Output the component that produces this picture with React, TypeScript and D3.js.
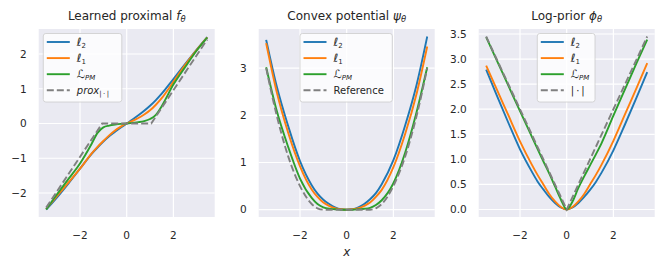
import React from "react";
import * as d3 from "d3";

// shared sample grid (x)
const xs = [-3.45, -3, -2.5, -2, -1.5, -1.25, -1, -0.75, -0.5, -0.25, 0, 0.25, 0.5, 0.75, 1, 1.25, 1.5, 2, 2.5, 3, 3.45];

// Learned proximal f_theta
const proxL2 = [-2.48, -2.14, -1.73, -1.3, -0.87, -0.69, -0.52, -0.37, -0.24, -0.115, 0, 0.115, 0.235, 0.365, 0.51, 0.675, 0.86, 1.28, 1.71, 2.13, 2.49];
const proxL1 = [-2.46, -2.1, -1.7, -1.3, -0.86, -0.67, -0.5, -0.34, -0.2, -0.09, 0, 0.075, 0.16, 0.26, 0.38, 0.54, 0.73, 1.2, 1.68, 2.12, 2.48];
const proxPM = [-2.47, -2.05, -1.6, -1.15, -0.58, -0.27, -0.11, -0.06, -0.03, -0.01, 0, 0.02, 0.04, 0.07, 0.13, 0.25, 0.5, 1.12, 1.62, 2.1, 2.47];
const proxRefX = [-3.45, -1.05, 1.05, 3.45];
const proxRefY = [-2.42, 0, 0, 2.42];

// Convex potential psi_theta
const potL2 = [3.6, 2.62, 1.76, 1.03, 0.52, 0.34, 0.21, 0.12, 0.05, 0.01, 0, 0.01, 0.05, 0.12, 0.22, 0.35, 0.54, 1.05, 1.78, 2.66, 3.67];
const potL1 = [3.53, 2.5, 1.62, 0.92, 0.43, 0.27, 0.15, 0.08, 0.03, 0.01, 0, 0.01, 0.03, 0.08, 0.15, 0.27, 0.42, 0.9, 1.6, 2.47, 3.46];
const potPM = [3.02, 2.1, 1.32, 0.66, 0.25, 0.12, 0.05, 0.02, 0.01, 0, 0, 0, 0.01, 0.02, 0.04, 0.1, 0.2, 0.56, 1.2, 2.08, 3.02];
const potRefX = [-3.45, -3, -2.5, -2, -1.5, -1.25, -1, 1, 1.25, 1.5, 2, 2.5, 3, 3.45];
const potRefY = [3.0, 2.0, 1.12, 0.5, 0.12, 0.03, 0, 0, 0.03, 0.12, 0.5, 1.12, 2.0, 3.0];

// Log-prior phi_theta
const priorL2 = [2.79, 2.28, 1.73, 1.2, 0.76, 0.56, 0.4, 0.25, 0.13, 0.04, 0, 0.04, 0.13, 0.25, 0.39, 0.55, 0.74, 1.18, 1.7, 2.24, 2.74];
const priorL1 = [2.87, 2.4, 1.88, 1.36, 0.9, 0.69, 0.5, 0.31, 0.16, 0.05, 0, 0.05, 0.16, 0.31, 0.5, 0.69, 0.9, 1.37, 1.9, 2.43, 2.92];
const priorPM = [3.44, 2.98, 2.47, 1.96, 1.46, 1.21, 0.96, 0.72, 0.46, 0.2, 0, 0.16, 0.43, 0.66, 0.88, 1.1, 1.33, 1.87, 2.4, 2.93, 3.39];
const priorRefX = [-3.45, 0, 3.45];
const priorRefY = [3.45, 0, 3.45];

const xTicks = [-2, 0, 2];
const proxTicks = [-2, -1, 0, 1, 2];
const potTicks = [0, 1, 2, 3];
const priorTicks = [0, 0.5, 1, 1.5, 2, 2.5, 3, 3.5];

const BLUE = "#1f77b4";
const ORANGE = "#ff7f0e";
const GREEN = "#2ca02c";
const GRAY = "#808080";
const INK = "#262626";
const FONT = "DejaVu Sans";

const TOP = 29;
const BOTTOM = 217;
const PW = 176;

const fmtMinus = (s: string) => s.replace("-", "\u2212");

function Sub({ main, sub, italic, subItalic, mainSize }: { main: string; sub: string; italic?: boolean; subItalic?: boolean; mainSize?: string }) {
  return (
    <>
      <tspan fontStyle={italic ? "italic" : "normal"} fontSize={mainSize}>{main}</tspan>
      <tspan fontSize="0.7em" dy="0.3em" fontStyle={subItalic ? "italic" : "normal"}>{sub}</tspan>
    </>
  );
}

const legendLabel = (key: string) => {
  switch (key) {
    case "l2": return <Sub main={"\u2113"} sub="2" mainSize="11.5" />;
    case "l1": return <Sub main={"\u2113"} sub="1" mainSize="11.5" />;
    case "pm": return <Sub main={"\u2112"} sub="PM" subItalic mainSize="11.5" />;
    case "prox": return <Sub main="prox" sub={"|\u2009\u00b7\u2009|"} italic />;
    case "ref": return <tspan>Reference</tspan>;
    default: return <tspan>{"|\u2009\u00b7\u2009|"}</tspan>;
  }
};

const panels = [
  {
    left: 38.7,
    title: <><tspan>Learned proximal </tspan><Sub main="f" sub={"\u03b8"} italic subItalic /></>,
    yDomain: [-2.69, 2.72],
    yTicks: proxTicks,
    fmt: (v: number) => fmtMinus(String(v)),
    series: [
      { x: xs, y: proxL2, color: BLUE },
      { x: xs, y: proxL1, color: ORANGE },
      { x: xs, y: proxPM, color: GREEN },
      { x: proxRefX, y: proxRefY, color: GRAY, dashed: true, linear: true },
    ],
    legend: { x: 43.3, w: 78.5, keys: ["l2", "l1", "pm", "prox"] },
  },
  {
    left: 258.7,
    title: <><tspan>Convex potential </tspan><Sub main={"\u03c8"} sub={"\u03b8"} italic subItalic /></>,
    yDomain: [-0.155, 3.83],
    yTicks: potTicks,
    fmt: (v: number) => String(v),
    series: [
      { x: xs, y: potL2, color: BLUE },
      { x: xs, y: potL1, color: ORANGE },
      { x: xs, y: potPM, color: GREEN },
      { x: potRefX, y: potRefY, color: GRAY, dashed: true },
    ],
    legend: { x: 300, w: 92.3, keys: ["l2", "l1", "pm", "ref"] },
  },
  {
    left: 478.7,
    title: <><tspan>Log-prior </tspan><Sub main={"\u03d5"} sub={"\u03b8"} italic subItalic /></>,
    yDomain: [-0.15, 3.6],
    yTicks: priorTicks,
    fmt: (v: number) => v.toFixed(1),
    series: [
      { x: xs, y: priorL2, color: BLUE },
      { x: xs, y: priorL1, color: ORANGE },
      { x: xs, y: priorPM, color: GREEN },
      { x: priorRefX, y: priorRefY, color: GRAY, dashed: true, linear: true },
    ],
    legend: { x: 537.3, w: 57.7, keys: ["l2", "l1", "pm", "abs"] },
  },
];

function Panel({ p, showXLabel }: { p: (typeof panels)[number]; showXLabel: boolean }) {
  const x = d3.scaleLinear().domain([-3.77, 3.77]).range([p.left, p.left + PW]);
  const y = d3.scaleLinear().domain(p.yDomain).range([BOTTOM, TOP]);
  const cx = p.left + PW / 2;

  return (
    <g>
      <rect x={p.left} y={TOP} width={PW} height={BOTTOM - TOP} fill="#eaeaf2" />
      {xTicks.map(t => (
        <line key={"gx" + t} x1={x(t)} x2={x(t)} y1={TOP} y2={BOTTOM} stroke="#fff" strokeWidth={1.2} />
      ))}
      {p.yTicks.map(t => (
        <line key={"gy" + t} x1={p.left} x2={p.left + PW} y1={y(t)} y2={y(t)} stroke="#fff" strokeWidth={1.2} />
      ))}
      {p.series.map((s, i) => {
        const pts = s.x.map((v, j) => [v, s.y[j]] as [number, number]);
        const line = d3.line<[number, number]>()
          .x(d => x(d[0]))
          .y(d => y(d[1]))
          .curve(s.linear ? d3.curveLinear : d3.curveMonotoneX);
        return (
          <path key={i} d={line(pts) || ""} fill="none" stroke={s.color} strokeWidth={1.9}
            strokeDasharray={s.dashed ? "7,3" : undefined} />
        );
      })}
      {xTicks.map(t => (
        <text key={"tx" + t} x={x(t)} y={238.5} textAnchor="middle" fontSize={10.5} fill={INK} fontFamily={FONT}>
          {fmtMinus(String(t))}
        </text>
      ))}
      {p.yTicks.map(t => (
        <text key={"ty" + t} x={p.left - 12} y={y(t)} dy="0.36em" textAnchor="end" fontSize={10.5} fill={INK} fontFamily={FONT}>
          {p.fmt(t)}
        </text>
      ))}
      <text x={cx} y={19.5} textAnchor="middle" fontSize={12} fill={INK} fontFamily={FONT}>{p.title}</text>
      {showXLabel && (
        <text x={cx} y={256} textAnchor="middle" fontSize={12} fontStyle="italic" fill={INK} fontFamily={FONT}>x</text>
      )}
      <g>
        <rect x={p.legend.x} y={33.5} width={p.legend.w} height={68.5} rx={2.5}
          fill="#fff" fillOpacity={0.8} stroke="#cccccc" strokeWidth={0.8} />
        {p.legend.keys.map((k, i) => {
          const ly = 42 + i * 16.1;
          const s = p.series[i];
          return (
            <g key={k}>
              <line x1={p.legend.x + 3.5} x2={p.legend.x + 26.5} y1={ly} y2={ly} stroke={s.color} strokeWidth={1.9}
                strokeDasharray={s.dashed ? "7,3" : undefined} />
              <text x={p.legend.x + 33.5} y={ly} dy="0.36em" fontSize={10} fill={INK} fontFamily={FONT}>
                {legendLabel(k)}
              </text>
            </g>
          );
        })}
      </g>
    </g>
  );
}

export default function App() {
  return (
    <svg width={664} height={269} style={{ position: "absolute", left: 0, top: 0, background: "#fff" }}>
      {panels.map((p, i) => (
        <Panel key={i} p={p} showXLabel={i === 1} />
      ))}
    </svg>
  );
}
